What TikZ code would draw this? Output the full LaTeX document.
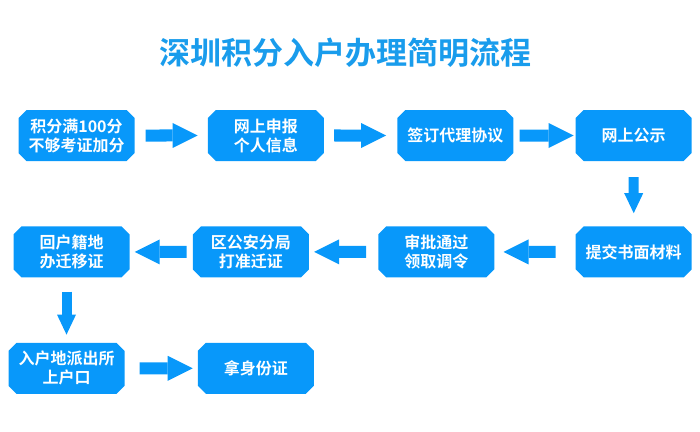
\documentclass[tikz,border=0pt]{standalone}
\usepackage{fontspec}
\setmainfont{Noto Sans CJK SC}[BoldFont={* Bold}]
\usepackage{xcolor}
\usepackage{tikz}
\usetikzlibrary{shapes.misc,arrows.meta,positioning}
\definecolor{flowblue}{RGB}{8,152,250}
\definecolor{titleblue}{RGB}{25,156,236}

\begin{document}
\begin{tikzpicture}[
    x=1pt, y=-1pt,
    box/.style={chamfered rectangle, chamfered rectangle xsep=4pt, chamfered rectangle ysep=4pt, fill=flowblue, text=white, minimum width=116pt, minimum height=51pt, inner sep=0pt, align=center, font=\fontsize{16}{19}\selectfont\bfseries},
    harrow/.style={flowblue, line width=12pt, -{Triangle[length=25pt,width=25pt,line width=0pt]}},
    varrow/.style={flowblue, line width=10pt, -{Triangle[length=20pt,width=19pt,line width=0pt]}}
]
\useasboundingbox (0,0) rectangle (700,431);
\node[font=\fontsize{31}{31}\selectfont\bfseries, text=titleblue] (title) at (345,53) {深圳积分入户办理简明流程};

\node[box] (b1) at (76.5,135.5) {积分满100分\\不够考证加分};
\node[box, right=73pt of b1] (b2) {网上申报\\个人信息};
\node[box, right=73pt of b2] (b3) {签订代理协议};
\node[box, right=62pt of b3] (b4) {网上公示};
\node[box, below=65pt of b4] (b5) {提交书面材料};
\node[box, left=81pt of b5] (b6) {审批通过\\领取调令};
\node[box, left=69pt of b6] (b7) {区公安分局\\打准迁证};
\node[box, left=63pt of b7] (b8) {回户籍地\\办迁移证};
\node[box, below=65pt of b8, xshift=-5pt] (b9) {入户地派出所\\上户口};
\node[box, right=73pt of b9] (b10) {拿身份证};

\draw[harrow, shorten <=11pt, shorten >=10pt] (b1) -- (b2);
\draw[harrow, shorten <=10pt, shorten >=11pt] (b2) -- (b3);
\draw[harrow, shorten <=6pt, shorten >=2pt] (b3) -- (b4);
\draw[varrow, shorten <=16pt, shorten >=13pt] (b4) -- (b5);
\draw[harrow, shorten <=20pt, shorten >=9pt] (b5) -- (b6);
\draw[harrow, shorten <=12pt, shorten >=5pt] (b6) -- (b7);
\draw[harrow, shorten <=6pt, shorten >=5pt] (b7) -- (b8);
\draw[varrow, shorten <=14pt, shorten >=8pt] (b8.south -| b9.north) -- (b9.north);
\draw[harrow, shorten <=15pt, shorten >=5pt] (b9) -- (b10);
\end{tikzpicture}
\end{document}
